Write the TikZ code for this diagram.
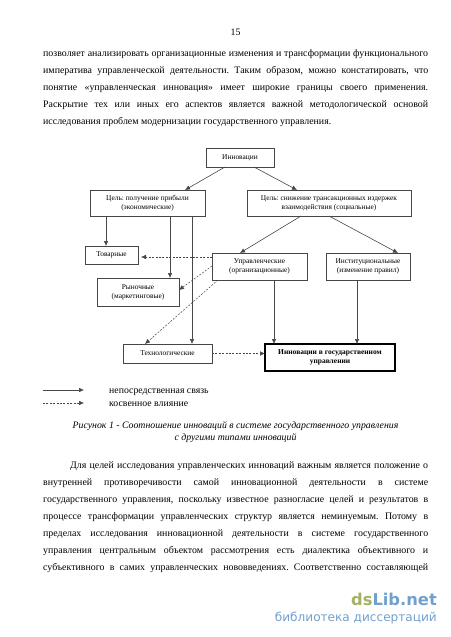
\documentclass[tikz,border=0pt]{standalone}
\usepackage{fontspec}
\setmainfont{Liberation Serif}
\newfontfamily\markfont{DejaVu Sans}
\usepackage{xcolor}
\usetikzlibrary{arrows.meta,positioning}
\definecolor{markgreen}{RGB}{163,178,98}
\definecolor{markblue}{RGB}{112,160,205}
\definecolor{boxline}{RGB}{70,70,70}
\frenchspacing

\begin{document}
\begin{tikzpicture}[
    x=1pt, y=-1pt,
    >={Latex[length=5pt,width=4.6pt]},
    box/.style={rectangle, draw=boxline, line width=0.7pt, inner sep=0pt, outer sep=0pt, font=\fontsize{7.4}{9.2}\selectfont, align=center},
    direct/.style={->, line width=0.6pt, draw=boxline},
    indirect/.style={->, line width=0.5pt, draw=boxline, dash pattern=on 2pt off 1.4pt},
    textline/.style={anchor=base west, inner sep=0pt, font=\fontsize{9.9}{11}\selectfont},
    legendtext/.style={anchor=west, inner sep=0pt, font=\fontsize{9.8}{11}\selectfont},
    captionline/.style={anchor=center, inner sep=0pt, font=\fontsize{9.8}{11}\itshape\selectfont}
]
    \useasboundingbox (0,0) rectangle (450,637);

    % Page text above the figure
    \node[anchor=base, inner sep=0pt, font=\fontsize{9.9}{11}\selectfont] (pagenum) at (235.5,35.5) {15};
    \node[textline] (top1) at (43,56) {\makebox[385pt][s]{позволяет анализировать организационные изменения и трансформации функционального}};
    \node[textline] (top2) at (43,73.2) {\makebox[385pt][s]{императива управленческой деятельности. Таким образом, можно констатировать, что}};
    \node[textline] (top3) at (43,90.4) {\makebox[385pt][s]{понятие «управленческая инновация» имеет широкие границы своего применения.}};
    \node[textline] (top4) at (43,107.6) {\makebox[385pt][s]{Раскрытие тех или иных его аспектов является важной методологической основой}};
    \node[textline] (top5) at (43,124.8) {исследования проблем модернизации государственного управления.};

    \node[box, minimum width=68pt, minimum height=19pt, anchor=north west] (innov) at (206,148) {Инновации};
    \node[box, minimum width=115pt, minimum height=26pt, below left=23pt and 1pt of innov] (goalprofit) {Цель: получение прибыли\\(экономические)};
    \node[box, minimum width=164pt, minimum height=26pt, below right=23pt and -27pt of innov] (goalsocial) {Цель: снижение трансакционных издержек\\взаимодействия (социальные)};

    \node[box, minimum width=53pt, minimum height=18pt, below right=30pt and -5pt of goalprofit.south west] (product) {Товарные};
    \node[box, minimum width=95pt, minimum height=27pt, below right=37pt and -35pt of goalsocial.south west] (manage) {Управленческие\\(организационные)};
    \node[box, minimum width=84pt, minimum height=27pt, right=19pt of manage] (instit) {Институциональные\\(изменение правил)};
    \node[box, minimum width=82pt, minimum height=28pt, below right=14pt and 12pt of product.south west] (market) {Рыночные\\(маркетинговые)};
    \node[box, minimum width=89pt, minimum height=19pt, below right=38pt and 26pt of market.south west] (techno) {Технологические};
    \node[box, line width=1.2pt, draw=black, minimum width=130pt, minimum height=27pt, below right=0pt and 53pt of techno.north east, font=\fontsize{7.5}{9.2}\bfseries\selectfont] (result) {Инновации в государственном\\управлении};

    % Direct links
    \draw[direct] ([xshift=19pt]innov.south west) -- ([xshift=-20pt]goalprofit.north east);
    \draw[direct] ([xshift=-20pt]innov.south east) -- ([xshift=50pt]goalsocial.north west);
    \draw[direct] ([xshift=16pt]goalprofit.south west) -- ([xshift=21pt]product.north west);
    \draw[direct] ([xshift=80pt]goalprofit.south west) -- ([xshift=73pt]market.north west);
    \draw[direct] ([xshift=102pt]goalprofit.south west) -- ([xshift=69pt]techno.north west);
    \draw[direct] ([xshift=54pt]goalsocial.south west) -- ([xshift=28pt]manage.north west);
    \draw[direct] ([xshift=82pt]goalsocial.south west) -- ([xshift=72pt]instit.north west);
    \draw[direct] ([xshift=62pt]manage.south west) -- ([xshift=9pt]result.north west);
    \draw[direct] ([xshift=31pt]instit.south west) -- ([xshift=92pt]result.north west);

    % Indirect influence
    \draw[indirect] ([yshift=-4pt]manage.north west) -- ([xshift=3pt,yshift=-11pt]product.north east);
    \draw[indirect] ([yshift=-13pt]manage.north west) -- ([yshift=-12pt]market.north east);
    \draw[indirect] ([xshift=6pt]manage.south west) -- ([xshift=22pt]techno.north west);
    \draw[indirect] (techno.east) -- (techno.east -| result.west);

    % Legend
    \coordinate (solidstart) at (43,390);
    \coordinate (solidend) at (84,390);
    \coordinate (dashstart) at (43,403);
    \coordinate (dashend) at (84,403);
    \draw[direct] (solidstart) -- (solidend);
    \draw[indirect] (dashstart) -- (dashend);
    \node[legendtext] (solidlabel) at (109,392) {непосредственная связь};
    \node[legendtext] (dashlabel) at (109,404) {косвенное влияние};

    \node[captionline] (caption1) at (235.5,426.5) {Рисунок 1 - Соотношение инноваций в системе государственного управления};
    \node[captionline] (caption2) at (235.5,438.5) {с другими типами инноваций};

    % Page text below the figure
    \node[textline] (low1) at (70,468.2) {\makebox[358pt][s]{Для целей исследования управленческих инноваций важным является положение о}};
    \node[textline] (low2) at (43,485.2) {\makebox[385pt][s]{внутренней противоречивости самой инновационной деятельности в системе}};
    \node[textline] (low3) at (43,502.2) {\makebox[385pt][s]{государственного управления, поскольку известное разногласие целей и результатов в}};
    \node[textline] (low4) at (43,519.2) {\makebox[385pt][s]{процессе трансформации управленческих структур является неминуемым. Потому в}};
    \node[textline] (low5) at (43,536.2) {\makebox[385pt][s]{пределах исследования инновационной деятельности в системе государственного}};
    \node[textline] (low6) at (43,553.2) {\makebox[385pt][s]{управления центральным объектом рассмотрения есть диалектика объективного и}};
    \node[textline] (low7) at (43,570.2) {\makebox[385pt][s]{субъективного в самих управленческих нововведениях. Соответственно составляющей}};

    % Site mark
    \node[anchor=base east, inner sep=0pt, font=\markfont\bfseries\fontsize{16.3}{20}\selectfont] (marktop) at (437,605) {\textcolor{markgreen}{ds}\textcolor{markblue}{Lib.net}};
    \node[anchor=base east, inner sep=0pt, font=\markfont\fontsize{12.1}{14}\selectfont, text=markblue] (markbottom) at (437,621) {библиотека диссертаций};
\end{tikzpicture}
\end{document}
